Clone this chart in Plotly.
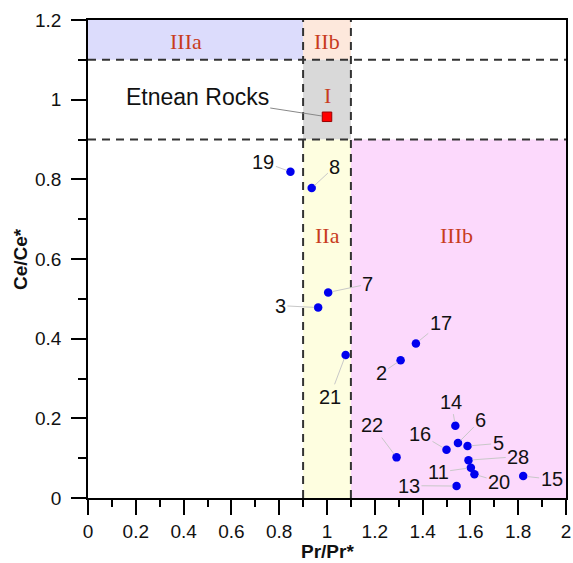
import plotly.graph_objects as go

# ---- data ----
sample_ids = ["19", "8", "7", "3", "21", "2", "17", "22", "14", "6", "5", "16", "28", "11", "20", "15", "13"]
pr_anom = [0.847, 0.936, 1.005, 0.963, 1.078, 1.308, 1.372, 1.291, 1.537, 1.548, 1.588, 1.500, 1.592, 1.602, 1.617, 1.821, 1.542]
ce_anom = [0.819, 0.778, 0.516, 0.478, 0.359, 0.346, 0.388, 0.102, 0.1815, 0.138, 0.1305, 0.121, 0.095, 0.076, 0.0595, 0.055, 0.030]

etna_name = "Etnean Rocks"
etna_pr = [1.0]
etna_ce = [0.957]

x_ticks = [0, 0.2, 0.4, 0.6, 0.8, 1, 1.2, 1.4, 1.6, 1.8, 2]
y_ticks = [0, 0.2, 0.4, 0.6, 0.8, 1, 1.2]
x_title = "Pr/Pr*"
y_title = "Ce/Ce*"

# label positions (data coords) for the leader-line annotations
label_pos = {
    "19": (0.734, 0.844), "8": (1.033, 0.832), "7": (1.171, 0.537), "3": (0.805, 0.483),
    "21": (1.012, 0.254), "2": (1.227, 0.313), "17": (1.476, 0.439), "22": (1.19, 0.183),
    "14": (1.52, 0.242), "6": (1.644, 0.196), "5": (1.716, 0.137), "16": (1.389, 0.161),
    "28": (1.80, 0.104), "11": (1.465, 0.0645), "20": (1.72, 0.041), "15": (1.94, 0.047),
    "13": (1.343, 0.031),
}

# ---- fields ----
fields = [
    dict(x0=0, x1=0.9, y0=1.1, y1=1.2, color="#dcdcfc"),
    dict(x0=0.9, x1=1.1, y0=1.1, y1=1.2, color="#fde8dc"),
    dict(x0=0.9, x1=1.1, y0=0.9, y1=1.1, color="#d9d9d9"),
    dict(x0=0.9, x1=1.1, y0=0, y1=0.9, color="#fefee0"),
    dict(x0=1.1, x1=2.0, y0=0, y1=0.9, color="#fcd9fc"),
]
field_labels = [("IIIa", 0.41, 1.145), ("IIb", 1.0, 1.145), ("I", 1.0, 1.01),
                ("IIa", 1.0, 0.66), ("IIIb", 1.54, 0.66)]

fig = go.Figure()

shapes = []
for f in fields:
    shapes.append(dict(type="rect", xref="x", yref="y", x0=f["x0"], x1=f["x1"], y0=f["y0"], y1=f["y1"],
                       fillcolor=f["color"], line=dict(width=0), layer="below"))
dash_style = dict(color="#333333", width=2, dash="8px,6px")
for yv in [1.1, 0.9]:
    shapes.append(dict(type="line", xref="x", yref="y", x0=0, x1=2, y0=yv, y1=yv, line=dash_style, layer="above"))
for xv in [0.9, 1.1]:
    shapes.append(dict(type="line", xref="x", yref="y", x0=xv, x1=xv, y0=0, y1=1.2, line=dash_style, layer="above"))

fig.add_trace(go.Scatter(x=pr_anom, y=ce_anom, mode="markers",
                         marker=dict(color="#0000ee", size=8.5, line=dict(width=0)),
                         showlegend=False, hoverinfo="skip"))
fig.add_trace(go.Scatter(x=etna_pr, y=etna_ce, mode="markers",
                         marker=dict(color="#ff0000", symbol="square", size=9.5, line=dict(color="#990000", width=1)),
                         showlegend=False, hoverinfo="skip"))

font_lbl = "Liberation Sans, Arial"
annotations = []
for sid, px, py in zip(sample_ids, pr_anom, ce_anom):
    lx, ly = label_pos[sid]
    annotations.append(dict(x=px, y=py, xref="x", yref="y", ax=lx, ay=ly, axref="x", ayref="y",
                            text=sid, showarrow=True, arrowhead=0, arrowwidth=1, arrowcolor="#c8c8c8",
                            standoff=4, startstandoff=0,
                            font=dict(family=font_lbl, size=20, color="#111111")))
annotations.append(dict(x=etna_pr[0], y=etna_ce[0], xref="x", yref="y", ax=0.457, ay=1.0075, axref="x", ayref="y",
                        text=etna_name, showarrow=True, arrowhead=0, arrowwidth=1, arrowcolor="#888888",
                        standoff=5, font=dict(family=font_lbl, size=23, color="#111111")))
for t, fx, fy in field_labels:
    annotations.append(dict(x=fx, y=fy, xref="x", yref="y", text=t, showarrow=False,
                            font=dict(family="Liberation Serif, Times New Roman", size=22, color="#c83c1e")))
# axis titles
annotations.append(dict(x=0.5, y=0, xref="paper", yref="paper", yshift=-53, xanchor="center", yanchor="middle",
                        text=f"<b>{x_title}</b>", showarrow=False,
                        font=dict(family=font_lbl, size=19, color="#111111")))
annotations.append(dict(x=0, y=0.5, xref="paper", yref="paper", xshift=-68, xanchor="center", yanchor="middle",
                        text=f"<b>{y_title}</b>", showarrow=False, textangle=-90,
                        font=dict(family=font_lbl, size=19, color="#111111")))

axis_common = dict(showgrid=False, zeroline=False, showline=True, linecolor="black", linewidth=1.5,
                   mirror=True, ticks="outside", ticklen=15, tickwidth=1.5, tickcolor="black",
                   automargin=False,
                   tickfont=dict(family=font_lbl, size=19, color="#111111"))

fig.update_layout(
    width=573, height=563,
    margin=dict(l=88, r=7, t=20, b=65),
    plot_bgcolor="white", paper_bgcolor="white",
    shapes=shapes, annotations=annotations,
    xaxis=dict(range=[0, 2], tickvals=x_ticks, ticktext=[f"{v:g}" for v in x_ticks],
               minor=dict(dtick=0.1, ticks="outside", ticklen=7, tickwidth=1.5, tickcolor="black"),
               ticklabelstandoff=0,
               **axis_common),
    yaxis=dict(range=[0, 1.2], tickvals=y_ticks, ticktext=[f"{v:g}" for v in y_ticks],
               minor=dict(dtick=0.1, ticks="outside", ticklen=8, tickwidth=1.5, tickcolor="black"),
               ticklabelstandoff=6,
               **axis_common),
)

fig.write_html("out.html")
